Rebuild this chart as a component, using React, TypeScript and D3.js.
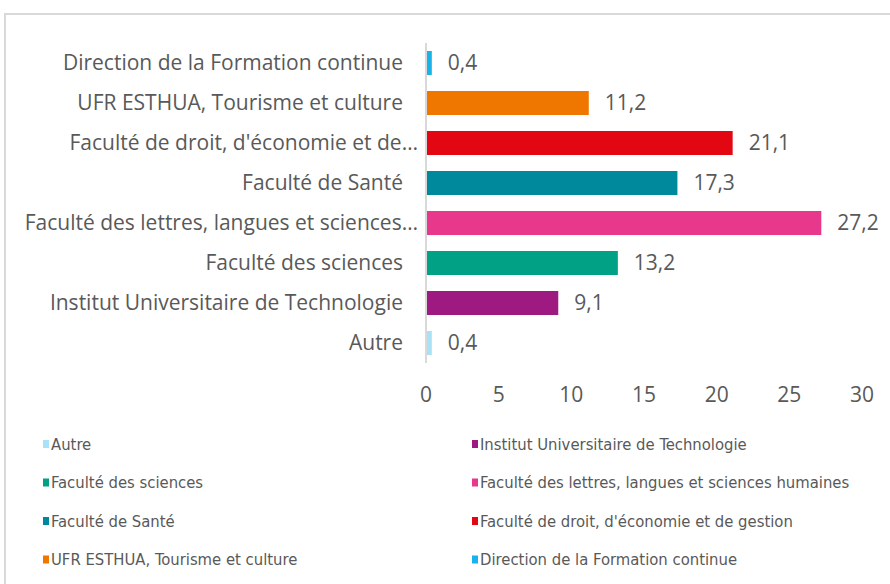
import React from "react";
import * as d3 from "d3";

// Categories listed bottom-to-top (as in the source series order)
const categories = [
  "Autre",
  "Institut Universitaire de Technologie",
  "Faculté des sciences",
  "Faculté des lettres, langues et sciences humaines",
  "Faculté de Santé",
  "Faculté de droit, d'économie et de gestion",
  "UFR ESTHUA, Tourisme et culture",
  "Direction de la Formation continue",
];
const values = [0.4, 9.1, 13.2, 27.2, 17.3, 21.1, 11.2, 0.4];
const colors = [
  "#a9e2f6",
  "#9f1a80",
  "#00a185",
  "#e8388b",
  "#00899c",
  "#e30613",
  "#ef7700",
  "#18b4e9",
];
const xTicks = [0, 5, 10, 15, 20, 25, 30];

const W = 890;
const H = 584;
const TEXT = "#595959";
const LABEL_FONT = "'Open Sans', Lato, sans-serif";
const LEGEND_FONT = "'Liberation Sans Narrow', 'DejaVu Sans Condensed', sans-serif";

let ctx: CanvasRenderingContext2D | null = null;
function measure(text: string, font: string) {
  if (!ctx) ctx = document.createElement("canvas").getContext("2d");
  if (!ctx) return text.length * 8;
  ctx.font = font;
  return ctx.measureText(text).width;
}
function truncate(text: string, maxW: number, font: string) {
  if (measure(text, font) <= maxW) return { t: text, cut: false };
  const words = text.split(" ");
  while (words.length > 1 && measure(words.join(" ") + "…", font) > maxW) words.pop();
  return { t: words.join(" ") + "…", cut: true };
}

export default function App() {
  const x = d3.scaleLinear().domain([0, 30]).range([426, 862]);
  const order = categories.map((_, i) => i).reverse(); // top to bottom
  const y = d3
    .scaleBand<number>()
    .domain(order)
    .range([43, 363])
    .paddingInner(0.4)
    .paddingOuter(0.2);

  const labelSize = 21;
  const labelFontCss = `${labelSize}px 'Open Sans'`;

  return (
    <svg
      width={W}
      height={H}
      style={{ position: "absolute", left: 0, top: 0, background: "#fff" }}
    >
      <rect x={5} y={14} width={W + 10} height={H + 10} fill="#fff" stroke="#d9d9d9" strokeWidth={2} />
      {order.map((i) => {
        const yy = y(i)!;
        const bw = y.bandwidth();
        const lab = truncate(categories[i], 398, labelFontCss);
        return (
          <g key={i}>
            <rect
              x={x(0)}
              y={yy}
              width={x(values[i]) - x(0)}
              height={bw}
              fill={colors[i]}
            />
            <text
              x={lab.cut ? 418 : 403}
              y={yy + bw / 2}
              dy="0.35em"
              textAnchor="end"
              fontFamily={LABEL_FONT}
              fontSize={labelSize}
              fill={TEXT}
            >
              {lab.t}
            </text>
            <text
              x={x(values[i]) + 16}
              y={yy + bw / 2}
              dy="0.35em"
              fontFamily={LABEL_FONT}
              fontSize={labelSize}
              fill={TEXT}
            >
              {d3.format(".1f")(values[i]).replace(".", ",")}
            </text>
          </g>
        );
      })}
      <line x1={x(0)} x2={x(0)} y1={43} y2={363} stroke="#d9d9d9" strokeWidth={2} />
      {xTicks.map((t) => (
        <text
          key={t}
          x={x(t)}
          y={395}
          dy="0.35em"
          textAnchor="middle"
          fontFamily={LABEL_FONT}
          fontSize={labelSize}
          fill={TEXT}
        >
          {t}
        </text>
      ))}
      {categories.map((c, i) => {
        const col = i % 2;
        const row = Math.floor(i / 2);
        const lx = col === 0 ? 43 : 472;
        const ly = 444 + row * 38.5;
        return (
          <g key={c}>
            <rect x={lx} y={ly - 4} width={6} height={8} fill={colors[i]} />
            <text
              x={lx + 8}
              y={ly}
              dy="0.35em"
              fontFamily={LEGEND_FONT}
              fontSize={16.5}
              fill={TEXT}
            >
              {c}
            </text>
          </g>
        );
      })}
    </svg>
  );
}
